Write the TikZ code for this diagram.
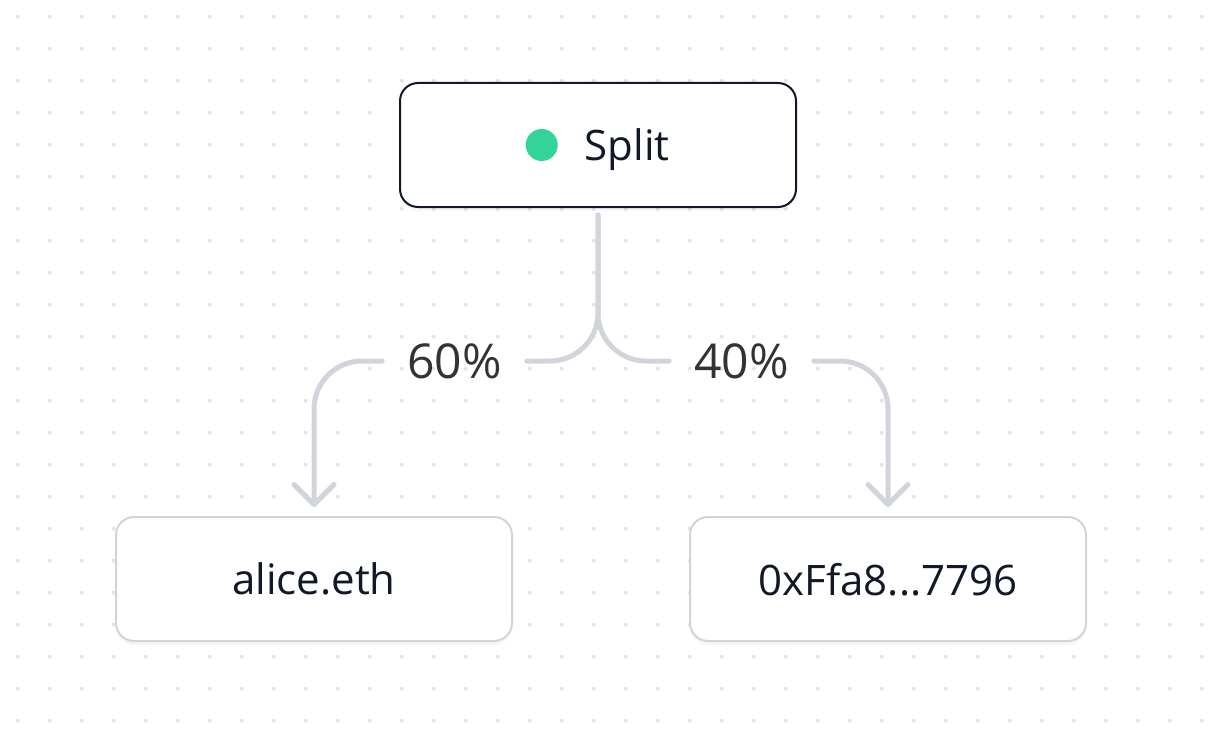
\documentclass[tikz,border=0pt]{standalone}
\usepackage{fontspec}
\setmainfont{Open Sans}
\usetikzlibrary{positioning,arrows.meta,shadows}
\definecolor{ink}{HTML}{111827}
\definecolor{edgegray}{HTML}{D1D5DB}
\definecolor{gridgray}{HTML}{E3E4E8}
\definecolor{mint}{HTML}{34D399}
\definecolor{pctgray}{HTML}{333333}

\begin{document}
\begin{tikzpicture}[x=1pt, y=-1pt,
  card/.style={draw, fill=white, line width=2pt, rounded corners=18pt, minimum width=396pt, minimum height=124pt, text=ink, text depth=0pt, font=\fontsize{42}{50}\selectfont, drop shadow={shadow xshift=0pt, shadow yshift=-4pt, opacity=0.06}},
  link/.style={draw=edgegray, line width=5pt, line cap=round, rounded corners=48pt},
  pct/.style={text=pctgray, inner xsep=25pt, inner ysep=0pt, font=\fontsize{48}{57}\selectfont},
  >={Straight Barb[length=20pt, width=40pt, round]}]
\fill[white] (0,0) rectangle (1220,738);
\useasboundingbox (0,0) rectangle (1220,738);
\foreach \i in {0,...,37}
  \foreach \j in {0,...,22}
    \fill[gridgray] (17.7+32*\i, 16.7+32*\j) circle (2pt);

\node[card, draw=ink] (split) at (598,145) {\hspace*{58pt}Split};
\node[circle, fill=mint, minimum size=32pt, inner sep=0pt] (splitdot) at (541.7,145) {};
\node[card, draw=edgegray, below=308pt of split, xshift=-284pt] (alice) {alice.eth};
\node[card, draw=edgegray, right=176pt of alice] (addr) {0xFfa8...7796};
\node[pct] (p60) at (454.5,361) {60\%};
\node[pct] (p40) at (741.5,361) {40\%};

\draw[link] ([yshift=-7pt]split.south) |- (p60.east);
\draw[link, ->] (p60.west) -| ([yshift=9pt]alice.north);
\draw[link] ([yshift=-7pt]split.south) |- (p40.west);
\draw[link, ->] (p40.east) -| ([yshift=9pt]addr.north);
\end{tikzpicture}
\end{document}
